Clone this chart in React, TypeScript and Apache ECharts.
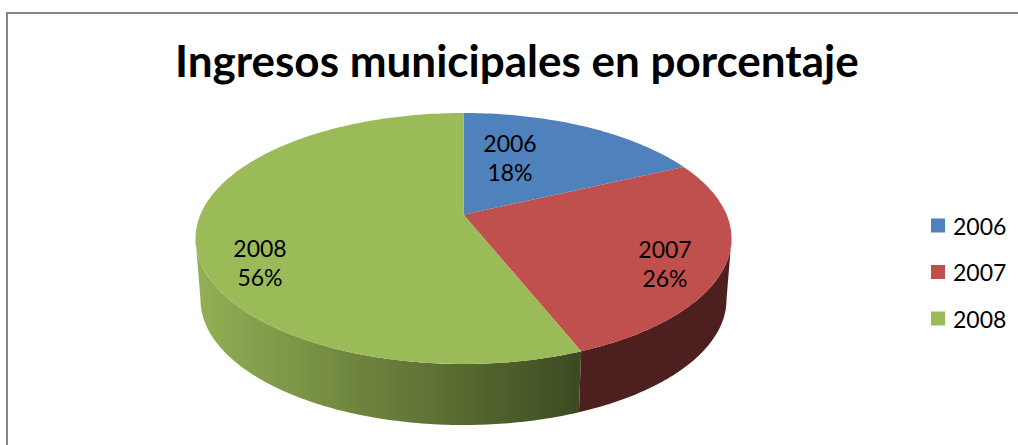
import React, { useEffect, useRef } from "react";
import * as echarts from "echarts";

const titleText = "Ingresos municipales en porcentaje";
const categories = ["2006", "2007", "2008"];
const shares = [18, 26, 56];
const faceColors = ["#4F81BD", "#C0504D", "#9BBB59"];
const FONT = "Lato, 'Open Sans', sans-serif";

// Projection of the tilted disc
const CX = 463.5;
const CY = 238.5;
const RX = 268;
const RY = 125.5;
const DEPTH = 61;
const BOTTOM_RX = 263;
const TILT = -0.19;
const labelAnchors = [
  [510, 157.5],
  [665, 263],
  [260, 262.5],
];
const sideFills: any[] = [
  "#3a5a80",
  "#4d1f1e",
  {
    type: "linear",
    x: 0,
    y: 0,
    x2: 1,
    y2: 0,
    colorStops: [
      { offset: 0, color: "#92b054" },
      { offset: 0.35, color: "#758c42" },
      { offset: 0.7, color: "#56692f" },
      { offset: 1, color: "#3d4a22" },
    ],
  },
];

// Angle on the pie (fraction of a turn, clockwise from the top) -> ellipse parameter
function toEllipseAngle(frac: number): number {
  const t = frac * Math.PI * 2;
  const x = Math.sin(t);
  const y = -Math.cos(t);
  const d = 1 + TILT * y;
  const px = (x * Math.sqrt(1 - TILT * TILT)) / d;
  const py = (y + TILT) / d;
  let a = Math.atan2(px, -py);
  if (a < 0) a += Math.PI * 2;
  if (frac >= 1) a = Math.PI * 2;
  return a;
}

function rim(a: number, rx: number, dy: number): number[] {
  return [CX + rx * Math.sin(a), CY + dy - RY * Math.cos(a)];
}

function arcPoints(a0: number, a1: number, rx: number, dy: number): number[][] {
  const n = Math.max(2, Math.ceil(Math.abs(a1 - a0) * 60));
  const pts: number[][] = [];
  for (let i = 0; i <= n; i++) pts.push(rim(a0 + ((a1 - a0) * i) / n, rx, dy));
  return pts;
}

export default function App() {
  const ref = useRef<HTMLDivElement>(null);
  useEffect(() => {
    document.body.style.margin = "0";
    document.body.style.background = "#ffffff";
    const chart = echarts.init(ref.current!, null, { renderer: "svg" });
    const total = shares.reduce((a, b) => a + b, 0);
    const apexY = CY + RY * TILT;

    const series = categories.map((name, idx) => {
      const before = shares.slice(0, idx).reduce((a, b) => a + b, 0);
      return {
        type: "custom",
        name,
        coordinateSystem: "none",
        itemStyle: { color: faceColors[idx] },
        data: [[shares[idx]]],
        z: 3,
        renderItem: (_p: any, api: any) => {
          const value = api.value(0) as number;
          const a0 = toEllipseAngle(before / total);
          const a1 = toEllipseAngle((before + value) / total);
          const children: any[] = [];
          const s0 = Math.max(a0, Math.PI / 2);
          const s1 = Math.min(a1, (Math.PI * 3) / 2);
          if (s1 > s0) {
            const side = [
              ...arcPoints(s0, s1, RX, 0),
              ...arcPoints(s1, s0, BOTTOM_RX, DEPTH),
            ];
            children.push({
              type: "polygon",
              shape: { points: side },
              style: { fill: sideFills[idx], stroke: "none" },
            });
          }
          children.push({
            type: "polygon",
            shape: { points: [[CX, apexY], ...arcPoints(a0, a1, RX, 0)] },
            style: { fill: faceColors[idx], stroke: "none" },
          });
          children.push({
            type: "text",
            x: labelAnchors[idx][0],
            y: labelAnchors[idx][1],
            style: {
              text: `${name}\n${value}%`,
              fill: "#000000",
              font: `23px ${FONT}`,
              lineHeight: 29,
              align: "center",
              verticalAlign: "middle",
            },
          });
          return { type: "group", children };
        },
      };
    });

    chart.setOption({
      animation: false,
      backgroundColor: "#ffffff",
      title: {
        text: titleText,
        left: 175,
        top: 38,
        padding: 0,
        textStyle: { fontFamily: FONT, fontSize: 44, fontWeight: "bold", color: "#000000" },
      },
      legend: {
        orient: "vertical",
        left: 931,
        top: 214,
        icon: "rect",
        itemWidth: 14,
        itemHeight: 14,
        itemGap: 23.5,
        padding: 0,
        selectedMode: false,
        data: categories,
        textStyle: { fontFamily: FONT, fontSize: 23, color: "#000000", padding: [0, 0, 0, 3] },
      },
      graphic: [
        {
          type: "polyline",
          shape: { points: [[7, 445], [7, 13], [1018, 13]] },
          style: { stroke: "#868686", lineWidth: 2, fill: "none" },
          silent: true,
        },
      ],
      series,
    });
    return () => chart.dispose();
  }, []);
  return (
    <div
      ref={ref}
      style={{ position: "absolute", left: 0, top: 0, width: 1018, height: 445 }}
    />
  );
}
